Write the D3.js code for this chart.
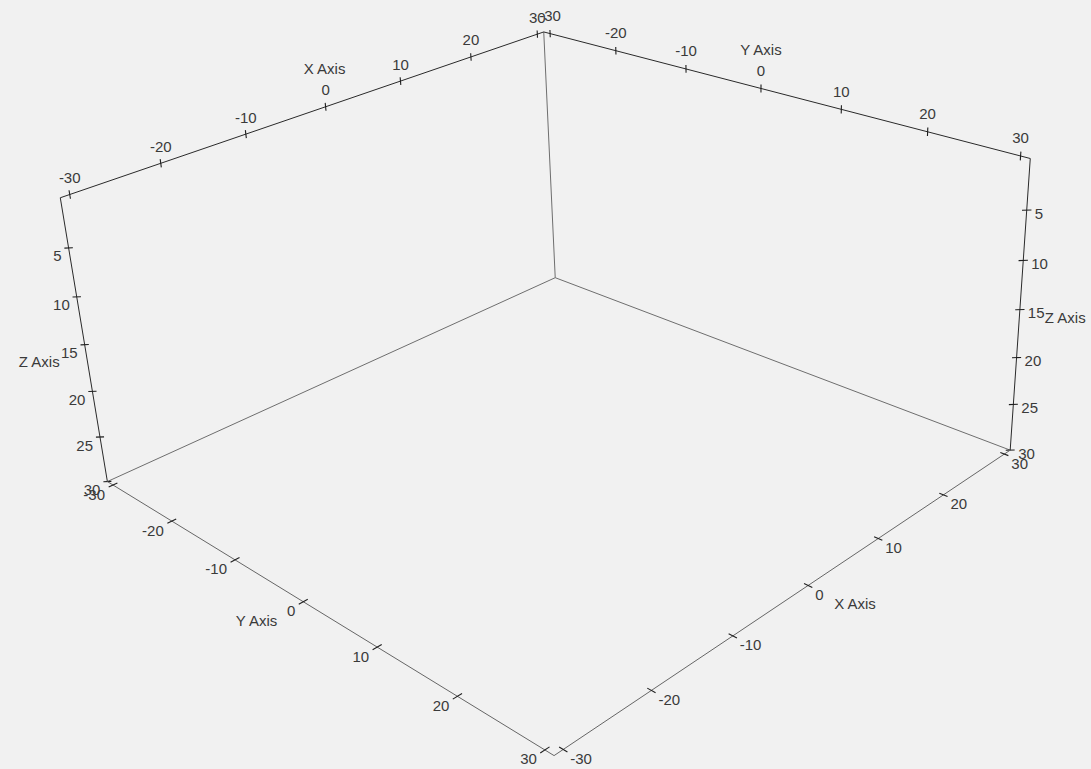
<!DOCTYPE html>
<html>
<head>
<meta charset="utf-8">
<script src="https://cdn.jsdelivr.net/npm/d3@7"></script>
<style>
  html, body { margin: 0; padding: 0; background: #f1f1f1; }
  svg { display: block; }
  text { font-family: "Liberation Sans", Arial, sans-serif; font-size: 15px; fill: #3a3a3a; }
</style>
</head>
<body>
<svg id="chart" width="1091" height="769"></svg>
<script>
// Tick values shown on each axis
const xTicks = [-30, -20, -10, 0, 10, 20, 30];
const yTicks = [-30, -20, -10, 0, 10, 20, 30];
const zTicks = [5, 10, 15, 20, 25, 30];

// Extent of the bounding box (data units)
const xBounds = [-31, 31];
const yBounds = [-31, 31];
const zBounds = [0, 30];

const axisTitles = { x: "X Axis", y: "Y Axis", z: "Z Axis" };

// Data -> world scales
const sx = d3.scaleLinear().domain(xBounds).range(xBounds);
const sy = d3.scaleLinear().domain(yBounds).range(yBounds);
const sz = d3.scaleLinear().domain(zBounds).range(zBounds);

// Perspective camera: world axes expressed in camera space, translation,
// focal length and principal point (pixels)
const camera = {
  ex: [0.71866, -0.33297, 0.61043],
  ey: [0.69357, 0.27953, -0.66397],
  ez: [0.05046, 0.90058, 0.43177],
  t: [1.9, -12.1, 173.4],
  f: 1920,
  cx: 519.6,
  cy: 312.3
};

function project(x, y, z) {
  const X = sx(x), Y = sy(y), Z = sz(z);
  const c = [0, 1, 2].map(i =>
    X * camera.ex[i] + Y * camera.ey[i] + Z * camera.ez[i] + camera.t[i]);
  return [camera.cx + camera.f * c[0] / c[2], camera.cy + camera.f * c[1] / c[2]];
}

const svg = d3.select("#chart");
svg.append("rect").attr("width", 1091).attr("height", 769).attr("fill", "#f1f1f1");

const [x0, x1] = xBounds, [y0, y1] = yBounds, [z0, z1] = zBounds;

// Back edges of the box (no ticks)
const backEdges = [
  [[x1, y0, z0], [x1, y0, z1]],
  [[x0, y0, z1], [x1, y0, z1]],
  [[x1, y0, z1], [x1, y1, z1]]
];

// Labelled axes: fixed coordinates, tick direction (world units),
// label/title placement in screen pixels
const axes = [
  { key: "x", ticks: xTicks, at: v => [v, y0, z0], range: xBounds, tickDir: [0, 0, 0.42],
    label: { dx: 0, dy: -17, anchor: "middle" }, title: { v: 0, dx: -1, dy: -38, anchor: "middle" }, stroke: "#2a2a2a" },
  { key: "y", ticks: yTicks, at: v => [x1, v, z0], range: yBounds, tickDir: [0, 0, 0.42],
    label: { dx: 0, dy: -18, anchor: "middle" }, title: { v: 0, dx: 0, dy: -39, anchor: "middle" }, stroke: "#2a2a2a" },
  { key: "z", ticks: zTicks, at: v => [x0, y0, v], range: zBounds, tickDir: [0.28, 0.28, 0],
    label: { dx: -7, dy: 8, anchor: "end" }, title: { v: 15, dx: -25, dy: 17, anchor: "end" }, stroke: "#2a2a2a" },
  { key: "z", ticks: zTicks, at: v => [x1, y1, v], range: zBounds, tickDir: [0.3, 0.3, 0],
    label: { dx: 8, dy: 3, anchor: "start" }, title: { v: 15, dx: 25, dy: 8, anchor: "start" }, stroke: "#2a2a2a" },
  { key: "y", ticks: yTicks, at: v => [x0, v, z1], range: yBounds, tickDir: [0.5, 0, 0],
    label: { dx: -8, dy: 9, anchor: "end" }, title: { v: 0, dx: -26, dy: 19, anchor: "end" }, stroke: "#666" },
  { key: "x", ticks: xTicks, at: v => [v, y1, z1], range: xBounds, tickDir: [0, 0.45, 0],
    label: { dx: 7, dy: 9, anchor: "start" }, title: { v: 0, dx: 26, dy: 18, anchor: "start" }, stroke: "#666" }
];

const line = d3.line();

svg.append("g").attr("class", "back-edges")
  .selectAll("path").data(backEdges).join("path")
  .attr("d", d => line(d.map(p => project(...p))))
  .attr("fill", "none").attr("stroke", "#6e6e6e").attr("stroke-width", 1);

axes.forEach(ax => {
  const g = svg.append("g").attr("class", "axis-" + ax.key);
  g.append("path")
    .attr("d", line(ax.range.map(v => project(...ax.at(v)))))
    .attr("fill", "none").attr("stroke", ax.stroke).attr("stroke-width", 1);

  const pts = ax.ticks.map(v => {
    const w = ax.at(v);
    const a = w.map((c, i) => c - ax.tickDir[i]);
    const b = w.map((c, i) => c + ax.tickDir[i]);
    return { v, p: project(...w), a: project(...a), b: project(...b) };
  });

  g.selectAll("path.tick").data(pts).join("path")
    .attr("class", "tick")
    .attr("d", d => line([d.a, d.b]))
    .attr("fill", "none")
    .attr("stroke", "#1e1e1e").attr("stroke-width", 1.1);

  g.selectAll("text.label").data(pts).join("text")
    .attr("class", "label")
    .attr("x", d => d.p[0] + ax.label.dx)
    .attr("y", d => d.p[1] + ax.label.dy)
    .attr("text-anchor", ax.label.anchor)
    .attr("dominant-baseline", "central")
    .text(d => d.v);

  const tp = project(...ax.at(ax.title.v));
  g.append("text")
    .attr("class", "title")
    .attr("x", tp[0] + ax.title.dx)
    .attr("y", tp[1] + ax.title.dy)
    .attr("text-anchor", ax.title.anchor)
    .attr("dominant-baseline", "central")
    .text(axisTitles[ax.key]);
});
</script>
</body>
</html>
